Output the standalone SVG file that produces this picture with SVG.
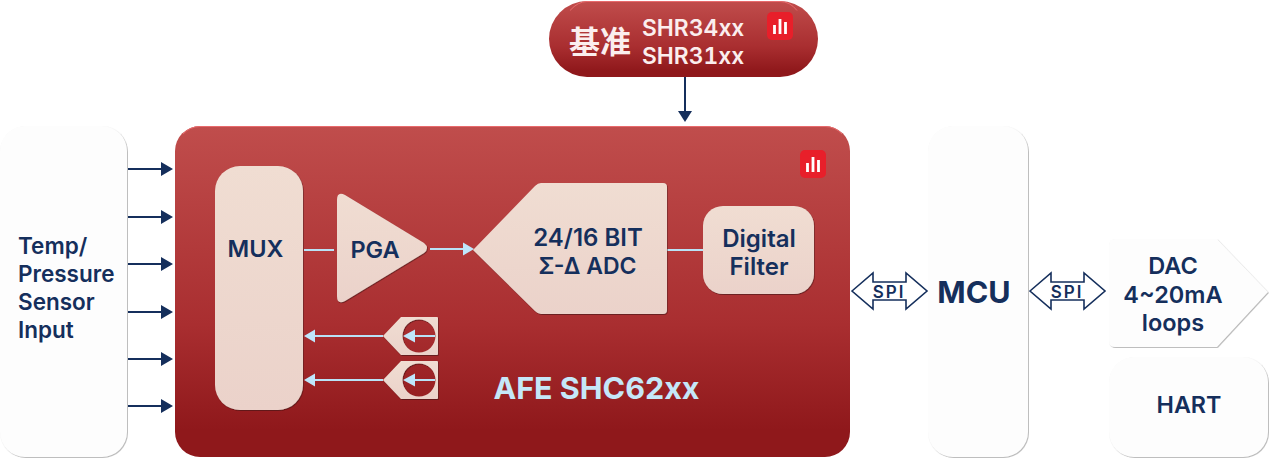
<svg xmlns="http://www.w3.org/2000/svg" width="1269" height="458" viewBox="0 0 1269 458">
<style>
text{font-family:"Inter","Noto Sans CJK SC","Liberation Sans",sans-serif;font-weight:600;fill:#152f5c;text-anchor:middle}
.w{fill:#fdfdfd;filter:url(#sg)}
.p{fill:url(#pale);filter:url(#sd)}
.n{stroke:#152f5c;stroke-width:2;fill:none}
.nh{fill:#152f5c}
.b{stroke:#b9e2f6;stroke-width:2;fill:none}
.bh{fill:#bfe6fb}
.s{fill:none;stroke:#152f5c;stroke-width:1.6}
.lt{fill:#fbeeee}
.st{text-anchor:start}
.edge{fill:none;stroke:#e86a6c;stroke-width:1}
</style>
<defs>
<linearGradient id="red" x1="0" y1="0" x2="0" y2="1"><stop offset="0" stop-color="#c04d4c"/><stop offset=".6" stop-color="#a92e30"/><stop offset=".92" stop-color="#8f181b"/><stop offset="1" stop-color="#8f181b"/></linearGradient>
<linearGradient id="pale" x1="0" y1="0" x2="0" y2="1"><stop offset="0" stop-color="#f0ddd2"/><stop offset="1" stop-color="#ebd2ca"/></linearGradient>
<filter id="sd" x="-10%" y="-10%" width="120%" height="120%"><feDropShadow dx=".6" dy=".8" stdDeviation=".5" flood-color="#3a0a0a" flood-opacity=".7"/></filter>
<filter id="sg" x="-5%" y="-5%" width="110%" height="110%"><feDropShadow dx=".8" dy=".8" stdDeviation=".4" flood-color="#8a8a8a" flood-opacity=".7"/></filter>
<g id="logo">
<rect x="0" y="0" width="26" height="28" rx="5" fill="#e81f2a"/>
<path d="M13 7V22M7.500 13V22M18.500 10V22" stroke="#fff" stroke-width="2.800" fill="none"/>
</g>
<g id="ref">
<path class="p" fill-rule="evenodd" d="M0 0L18 -19H54Q55 -19 55 -18V18Q55 19 54 19H18ZM19.500 0A16.500 16.500 0 1 0 52.500 0A16.500 16.500 0 1 0 19.500 0Z"/>
<path class="b" d="M0 0H-68M52 0H32"/>
<path class="bh" d="M-79 0L-68 -6.500V6.500ZM20 0L32 -6.500V6.500Z"/>
</g>
<path id="spi" d="M0 0L21 -18V-9H54V-18L75 0L54 18V9H21V18Z" class="s"/>
</defs>

<g id="connectors">
<g id="inputs">
<path class="n" d="M128 169H162M128 217H162M128 264H162M128 312H162M128 359H162M128 406H162"/>
<path class="nh" d="M173 169L161 162V176ZM173 217L161 210V224ZM173 264L161 257V271ZM173 312L161 305V319ZM173 359L161 352V366ZM173 406L161 399V413Z"/>
</g>
<path class="n" d="M685 77V112"/>
<path class="nh" d="M685 122L678 111H692Z"/>
</g>

<g id="node-input"><rect class="w" x="0" y="126" width="127" height="331" rx="25"/>
<text class="st" x="18" y="254" font-size="22.500">Temp/</text><text class="st" x="18" y="282" font-size="22.500">Pressure</text><text class="st" x="18" y="310" font-size="22.500">Sensor</text><text class="st" x="18" y="338" font-size="22.500">Input</text></g>

<g id="node-ref"><rect x="549" y="1" width="269" height="76" rx="38" fill="url(#red)"/>
<path class="edge" d="M570 10.500Q578 1.500 587 1.500H780Q790 1.500 797 10.500"/>
<text x="600" y="53" font-size="31" class="lt" style="font-weight:700">基准</text>
<text class="lt st" x="642" y="36" font-size="22.800">SHR34xx</text><text class="lt st" x="642" y="64" font-size="22.800" style="font-variant-numeric:tabular-nums">SHR31xx</text>
<use href="#logo" x="767" y="12"/></g>

<g id="node-afe"><rect x="175" y="126" width="675" height="331" rx="25" fill="url(#red)"/>
<path class="edge" d="M183 134Q190 126.500 200 126.500H825Q835 126.500 842 134"/>
<use href="#logo" x="800" y="150"/></g>

<g id="afe-links">
<path class="b" d="M304 250H334M667 250H703"/>
<path class="b" d="M430 249H463"/>
<path class="bh" d="M474 249L463 242.500V255.500Z"/>
</g>

<g id="node-mux"><rect class="p" x="215" y="166" width="88" height="244" rx="25"/><text x="255.500" y="257" font-size="23.500">MUX</text></g>
<g id="node-pga"><path class="p" d="M337 200Q337 191 345 195L424 243Q430 248 424 253L345 301Q337 305 337 296Z"/><text x="375" y="258" font-size="23.500">PGA</text></g>
<g id="node-adc"><path class="p" d="M473 250L535 186Q538 183 541 183H663Q667 183 667 187V310Q667 314 663 314H541Q538 314 535 311Z"/>
<text x="588" y="245.500" font-size="24">24/16 BIT</text><text x="587.500" y="273.500" font-size="23">Σ-Δ ADC</text></g>
<g id="node-filter"><rect class="p" x="703" y="206" width="111" height="88" rx="20"/><text x="759" y="247" font-size="24">Digital</text><text x="759" y="275" font-size="24">Filter</text></g>
<g id="node-ref1"><use href="#ref" x="383" y="336"/></g>
<g id="node-ref2"><use href="#ref" x="383" y="380"/></g>
<text x="596.500" y="399" font-size="30.500" style="fill:#c5e7f8;font-weight:700">AFE SHC62xx</text>

<g id="spi-left"><use href="#spi" x="852" y="291"/><text x="889" y="298" font-size="17" style="letter-spacing:2px">SPI</text></g>
<g id="node-mcu"><rect class="w" x="928" y="126" width="100" height="331" rx="25"/><text x="974" y="303" font-size="30.500" style="font-weight:700">MCU</text></g>
<g id="spi-right"><use href="#spi" x="1030" y="291"/><text x="1067" y="298" font-size="17" style="letter-spacing:2px">SPI</text></g>
<g id="node-dac"><path class="w" d="M1109 245Q1109 239 1115 239H1217L1268 292L1217 347H1115Q1109 347 1109 341Z"/><text x="1173" y="274" font-size="23.500">DAC</text><text x="1173" y="303" font-size="23.500">4~20mA</text><text x="1173" y="331" font-size="23.500">loops</text></g>
<g id="node-hart"><rect class="w" x="1109" y="357" width="159" height="100" rx="25"/><text x="1189" y="413" font-size="23.300">HART</text></g>
</svg>
